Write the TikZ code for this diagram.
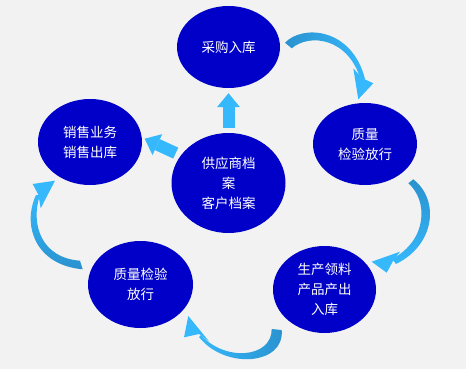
\documentclass[tikz,border=0pt]{standalone}
\usepackage{fontspec}
\usepackage{xcolor}
\usepackage{tikz}
\usetikzlibrary{shapes.geometric, arrows.meta}
\newfontfamily\cjk{Noto Sans CJK SC}
\definecolor{PaleGray}{HTML}{F2F2F2}
\definecolor{RoyalBlue}{HTML}{0000C8}
\definecolor{SkyBlue}{HTML}{35B8FC}
\definecolor{SteelBlue}{HTML}{2A92CE}

\begin{document}
\begin{tikzpicture}[x=1pt, y=-1pt,
      stage/.style={ellipse, fill=RoyalBlue, text=white, inner sep=0pt,
                    minimum width=104pt, minimum height=84pt, align=center,
                    font=\cjk\fontsize{13.5}{20}\selectfont},
      feed/.style={SkyBlue, line width=12pt,
                   -{Triangle[length=14pt, width=23pt, line width=0pt]}},
      loopband/.style={top color=SteelBlue, bottom color=SkyBlue, shading angle=#1},
      loophead/.style={fill=SkyBlue}]
      % Canvas
      \fill[PaleGray] (0,0) rectangle (466,369);
      \useasboundingbox (0,0) rectangle (466,369);

      % Stages
      \node[stage, minimum width=103pt, minimum height=82pt] (purchase) at (228.5,47) {采购入库};
      \node[stage, minimum height=82pt] (check) at (365,144) {质量\\检验放行};
      \node[stage, minimum height=86pt] (sales) at (90,142) {销售业务\\销售出库};
      \node[stage, minimum width=114pt, minimum height=100pt] (core) at (228.5,183) {供应商档\\案\\客户档案};
      \node[stage, minimum width=105pt, minimum height=87pt] (inspect) at (140.5,284.5) {质量检验\\放行};
      \node[stage, minimum width=103pt, minimum height=87pt] (produce) at (324.5,289.5) {生产领料\\产品产出\\入库};

      % Archive feeds
      \draw[feed, shorten <=5pt, shorten >=5pt] (core.north) -- (purchase.south);
      \draw[feed, shorten <=5.5pt, shorten >=3pt] (core.150) -- (sales.5);

      % Loop: purchase -> check
      \shade[loopband=90] (285,42.7) .. controls (303,24) and (352,28) .. (365,79)
        -- (360.5,79) .. controls (348,38) and (310,33) .. (291.7,48.3) -- cycle;
      \fill[loophead] (358.3,99.3) -- (353.3,68.3) -- (362,78) -- (373.3,83.3) -- cycle;

      % Loop: check -> produce
      \shade[loopband=0] (413.3,179.3) .. controls (440,200) and (435,245) .. (396,264)
        -- (392,259) .. controls (428,240) and (428,200) .. (408.3,183.3) -- cycle;
      \fill[loophead] (371.7,261.7) -- (400,251.7) -- (393,261) -- (386.7,272.7) -- cycle;

      % Loop: produce -> inspect
      \shade[loopband=-90] (281.7,330) .. controls (285,365) and (225,370) .. (199,337)
        -- (201,335) .. controls (225,362) and (272,358) .. (271.7,329) -- cycle;
      \fill[loophead] (188.3,316) -- (184,337.3) -- (199,334) -- (209.3,341.7) -- cycle;

      % Loop: inspect -> sales
      \shade[loopband=180] (82.7,269.3) .. controls (35,265) and (22,225) .. (36,195)
        -- (40,195) .. controls (30,225) and (42,258) .. (80,260.7) -- cycle;
      \fill[loophead] (55,180.7) -- (32.7,184) -- (38.5,195) -- (40.7,208.3) -- cycle;
    \end{tikzpicture}
\end{document}
